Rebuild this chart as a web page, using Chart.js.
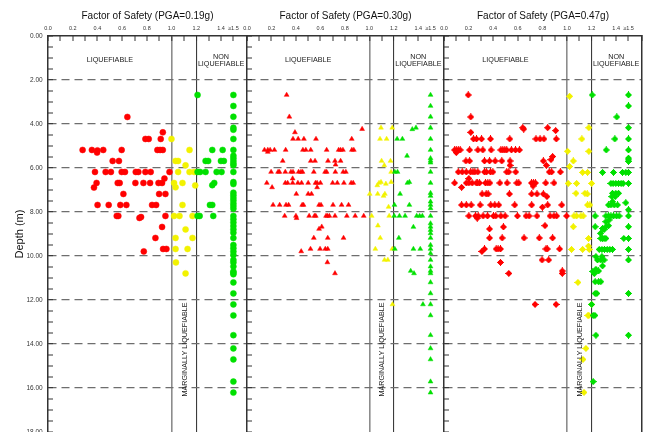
<!DOCTYPE html>
<html lang="en">
<head>
<meta charset="UTF-8">
<title>Factor of Safety vs Depth</title>
<script src="https://cdn.jsdelivr.net/npm/chart.js"></script>
<style>
  html, body { margin: 0; padding: 0; background: #fff; overflow: hidden; }
  #wrap { position: relative; width: 654px; height: 432px; overflow: hidden; }
  canvas { position: absolute; left: 0; top: 0; }
</style>
</head>
<body>
<div id="wrap">
  <canvas id="pga19" width="654" height="450"></canvas>
  <canvas id="pga30" width="654" height="450"></canvas>
  <canvas id="pga47" width="654" height="450"></canvas>
</div>
<script>
// FS axis labels (every 0.2, last one is the cap)
const fsTickValues = [0, 0.2, 0.4, 0.6, 0.8, 1.0, 1.2, 1.4, 1.5];
const fsTickLabels = ['0.0', '0.2', '0.4', '0.6', '0.8', '1.0', '1.2', '1.4', '\u22651.5'];
const pgaLabels = ['0.19', '0.30', '0.47'];

// PGA = 0.19g  [FS, depth]
const fs19Red = [[0.642,3.68],[0.929,4.38],[0.788,4.68],[0.815,4.68],[0.912,4.68],
  [0.280,5.18],[0.355,5.18],[0.400,5.20],[0.397,5.30],[0.447,5.18],[0.596,5.18],[0.885,5.18],[0.907,5.18],[0.929,5.18],
  [0.523,5.68],[0.574,5.68],
  [0.380,6.18],[0.466,6.18],[0.509,6.18],[0.596,6.18],[0.623,6.18],[0.710,6.18],[0.731,6.18],[0.788,6.18],[0.831,6.18],[0.983,6.18],
  [0.942,6.48],
  [0.393,6.68],[0.564,6.68],[0.580,6.68],[0.707,6.68],[0.772,6.68],[0.826,6.68],[0.894,6.68],[0.923,6.68],
  [0.372,6.89],[0.610,7.18],[0.899,7.18],[0.950,7.18],
  [0.401,7.68],[0.491,7.68],[0.585,7.68],[0.634,7.68],[0.842,7.68],[0.875,7.68],
  [0.556,8.18],[0.569,8.18],[0.740,8.27],[0.753,8.23],[0.950,8.18],
  [0.923,8.68],[0.869,9.18],[0.931,9.68],[0.958,9.68],[0.775,9.79]];
const fs19Yellow = [[0.999,4.68],[1.145,5.18],[1.032,5.68],[1.053,5.68],[1.113,5.88],
  [1.053,6.18],[1.145,6.18],[1.183,6.18],
  [1.020,6.68],[1.032,6.88],[1.088,6.68],[1.191,6.79],
  [1.088,7.68],[1.020,8.18],[1.064,8.18],[1.169,8.18],
  [1.113,8.79],[1.032,9.18],[1.169,9.18],[1.032,9.68],[1.129,9.68],
  [1.035,10.29],[1.113,10.79]];
const fs19Green = [[1.210,2.68],[1.329,5.18],[1.413,5.18],
  [1.275,5.68],[1.296,5.68],[1.399,5.68],[1.423,5.68],
  [1.210,6.18],[1.231,6.18],[1.275,6.18],[1.364,6.18],[1.404,6.18],
  [1.329,6.78],[1.345,6.68],[1.310,7.68],[1.329,7.68],
  [1.210,8.18],[1.227,8.18],[1.337,8.18]];
// depths where FS >= 1.5
const cap19 = [2.68, 3.18, 3.67, 4.17, 4.26, 4.68, 5.18, 5.44, 5.56, 5.68, 5.79, 5.88, 6.18, 6.64, 6.73,
  7.12, 7.24, 7.36, 7.48, 7.61, 7.73, 7.85, 8.18, 8.33, 8.48, 8.64, 8.79, 8.94, 9.18, 9.50, 9.65, 9.80, 9.95,
  10.18, 10.30, 10.48, 10.70, 10.76, 10.83, 11.20, 11.70, 12.20, 12.70, 13.60, 14.20, 14.70, 15.71, 16.21];

// PGA = 0.30g
const fs30Red = [[0.324,2.68],[0.346,3.67],[0.392,4.38],[0.941,4.23],
  [0.376,4.68],[0.418,4.68],[0.465,4.68],[0.564,4.68],[0.856,4.68],
  [0.143,5.18],[0.170,5.18],[0.170,5.27],[0.189,5.18],[0.224,5.18],[0.316,5.18],[0.457,5.18],[0.481,5.18],[0.521,5.18],
  [0.651,5.18],[0.749,5.18],[0.765,5.18],[0.784,5.18],[0.857,5.18],[0.873,5.18],
  [0.292,5.68],[0.521,5.68],[0.556,5.68],[0.662,5.68],[0.719,5.68],[0.765,5.68],[0.724,5.85],
  [0.197,6.18],[0.254,6.18],[0.265,6.18],[0.313,6.18],[0.359,6.18],[0.376,6.18],[0.422,6.18],[0.441,6.18],[0.454,6.18],
  [0.546,6.18],[0.638,6.18],[0.651,6.18],[0.722,6.18],[0.786,6.18],[0.808,6.18],
  [0.373,6.48],
  [0.162,6.68],[0.313,6.68],[0.332,6.68],[0.373,6.68],[0.416,6.68],[0.446,6.68],[0.500,6.68],[0.560,6.68],[0.573,6.68],
  [0.600,6.68],[0.700,6.68],[0.738,6.68],[0.792,6.68],[0.851,6.68],[0.868,6.68],
  [0.205,6.88],[0.573,6.88],[0.403,7.18],[0.500,7.18],[0.527,7.18],
  [0.213,7.68],[0.267,7.68],[0.319,7.68],[0.340,7.68],[0.451,7.68],[0.462,7.68],[0.589,7.68],[0.605,7.68],[0.703,7.68],
  [0.773,7.68],[0.830,7.68],
  [0.308,8.18],[0.400,8.18],[0.405,8.28],[0.508,8.18],[0.551,8.18],[0.562,8.18],[0.646,8.18],[0.657,8.18],[0.673,8.18],
  [0.719,8.18],[0.816,8.18],[0.884,8.18],[0.954,8.18],
  [0.611,8.67],[0.589,8.77],[0.546,9.18],[0.660,9.18],[0.789,9.18],
  [0.519,9.68],[0.597,9.68],[0.640,9.68],[0.660,9.68],[0.443,9.79],
  [0.657,10.29],[0.719,10.79]];
const fs30Yellow = [[1.095,4.17],[1.187,4.17],[1.087,4.68],[1.141,4.68],
  [1.100,5.68],[1.173,5.68],[1.122,5.88],[1.178,6.18],
  [1.079,6.68],[1.095,6.64],[1.135,6.72],[1.178,6.64],[1.065,6.79],
  [1.003,7.18],[1.068,7.18],[1.116,7.27],[1.127,7.18],[1.157,7.77],
  [1.019,8.18],[1.162,8.18],[1.070,8.62],[1.089,9.18],[1.049,9.68],[1.187,9.68],
  [1.124,10.18],[1.151,10.18],[1.189,12.20]];
const fs30Green = [[1.351,4.24],[1.381,4.17],[1.227,4.68],[1.270,4.68],[1.308,5.45],
  [1.208,6.18],[1.230,6.18],[1.311,6.68],[1.327,6.64],[1.251,7.18],
  [1.205,7.68],[1.327,7.68],
  [1.203,8.18],[1.246,8.18],[1.292,8.18],[1.387,8.18],[1.411,8.18],[1.433,8.18],
  [1.360,8.68],[1.241,9.18],[1.208,9.68],[1.360,9.68],[1.416,9.68],
  [1.338,10.68],[1.365,10.79],[1.438,12.20]];
const cap30 = [2.68, 3.18, 3.67, 4.17, 4.68, 5.18, 5.56, 5.67, 5.76, 6.18, 6.68, 7.14, 7.27, 7.53, 7.68, 7.83,
  8.18, 8.52, 8.67, 8.82, 8.97, 9.18, 9.50, 9.68, 9.88, 10.18, 10.48, 10.68, 10.79, 11.20, 11.70, 12.20,
  12.70, 13.60, 14.20, 14.70, 15.71, 16.21];

// PGA = 0.47g
const fs47Red = [[0.197,2.68],[0.218,3.68],[0.640,4.17],[0.648,4.23],[0.843,4.17],[0.908,4.30],[0.218,4.38],
  [0.240,4.68],[0.264,4.68],[0.305,4.68],[0.378,4.68],[0.535,4.68],[0.748,4.68],[0.781,4.68],[0.813,4.68],[0.913,4.68],
  [0.086,5.18],[0.100,5.18],[0.100,5.30],[0.116,5.18],[0.132,5.18],[0.208,5.18],[0.275,5.18],[0.316,5.18],[0.383,5.18],
  [0.462,5.18],[0.478,5.18],[0.494,5.18],[0.510,5.18],[0.548,5.18],[0.581,5.18],[0.613,5.18],
  [0.883,5.48],[0.870,5.62],
  [0.178,5.68],[0.208,5.68],[0.329,5.68],[0.370,5.68],[0.416,5.68],[0.470,5.68],[0.537,5.68],[0.808,5.68],[0.537,5.88],[0.832,5.88],
  [0.116,6.18],[0.148,6.18],[0.181,6.18],[0.216,6.18],[0.235,6.18],[0.251,6.18],[0.275,6.18],[0.329,6.18],[0.345,6.18],
  [0.378,6.18],[0.397,6.18],[0.510,6.18],[0.527,6.18],[0.583,6.18],[0.856,6.18],[0.875,6.18],[0.946,6.18],
  [0.202,6.48],
  [0.086,6.68],[0.181,6.68],[0.202,6.68],[0.229,6.68],[0.262,6.68],[0.273,6.68],[0.289,6.68],[0.337,6.68],[0.356,6.68],
  [0.373,6.68],[0.454,6.68],[0.513,6.68],[0.592,6.68],[0.608,6.68],[0.711,6.68],[0.727,6.68],[0.743,6.68],[0.827,6.68],[0.894,6.68],
  [0.143,6.88],[0.724,6.82],
  [0.310,7.18],[0.343,7.18],[0.359,7.18],[0.532,7.18],[0.713,7.18],[0.756,7.18],[0.808,7.18],[0.837,7.30],
  [0.143,7.68],[0.181,7.68],[0.221,7.68],[0.294,7.68],[0.380,7.68],[0.413,7.68],[0.445,7.68],[0.575,7.68],[0.713,7.68],
  [0.843,7.68],[0.957,7.68],[0.800,7.78],
  [0.202,8.18],[0.256,8.18],[0.270,8.28],[0.278,8.18],[0.318,8.18],[0.354,8.18],[0.402,8.18],[0.421,8.18],[0.462,8.18],
  [0.497,8.18],[0.597,8.18],[0.667,8.18],[0.692,8.18],[0.756,8.18],[0.862,8.18],[0.894,8.18],[0.916,8.18],[0.997,8.18],
  [0.821,8.62],[0.483,8.68],[0.370,8.77],
  [0.370,9.18],[0.473,9.18],[0.651,9.18],[0.775,9.18],[0.883,9.18],
  [0.329,9.68],[0.424,9.68],[0.440,9.68],[0.459,9.68],[0.829,9.68],[0.840,9.68],[0.940,9.68],[0.308,9.79],
  [0.797,10.18],[0.851,10.18],[0.459,10.29],[0.527,10.79],[0.962,10.68],[0.962,10.79],
  [0.740,12.20],[0.911,12.20]];
const fs47Yellow = [[1.021,2.74],[1.178,4.17],[1.121,4.68],[1.005,5.24],[1.178,5.24],[1.021,5.93],[1.051,5.68],
  [1.127,6.20],[1.167,6.20],[1.010,6.70],[1.078,6.70],[1.200,6.70],
  [1.073,7.15],[1.146,7.15],[1.165,7.18],[1.167,7.68],[1.186,7.68],
  [1.057,8.18],[1.078,8.18],[1.113,8.18],[1.132,8.18],[1.051,8.67],[1.175,9.20],[1.175,9.55],
  [1.037,9.70],[1.127,9.70],[1.181,9.70],
  [1.089,11.20],[1.200,12.20],[1.170,12.70],[1.178,12.70],[1.154,14.20],[1.130,14.70],[1.138,16.20]];
const fs47Green = [[1.205,2.68],[1.405,3.68],[1.389,4.68],[1.319,5.18],
  [1.289,6.20],[1.378,6.20],[1.451,6.20],[1.478,6.20],
  [1.357,6.70],[1.375,6.70],[1.397,6.70],[1.419,6.70],[1.440,6.70],[1.457,6.70],
  [1.370,7.15],[1.397,7.15],[1.419,7.15],[1.365,7.30],[1.392,7.30],[1.370,7.53],[1.478,7.58],
  [1.338,7.68],[1.357,7.68],[1.384,7.68],[1.411,7.68],
  [1.229,8.18],[1.316,8.18],[1.338,8.18],[1.357,8.18],[1.378,8.18],[1.403,8.18],[1.424,8.18],
  [1.343,8.36],[1.316,8.44],[1.229,8.67],[1.316,8.67],[1.338,8.62],[1.289,8.75],[1.302,8.80],[1.273,8.97],
  [1.275,9.20],[1.289,9.20],[1.302,9.20],[1.316,9.20],[1.462,9.20],
  [1.262,9.70],[1.284,9.70],[1.305,9.70],[1.327,9.70],[1.348,9.70],[1.370,9.70],
  [1.235,10.03],[1.284,10.03],[1.248,10.18],[1.275,10.18],[1.302,10.18],
  [1.289,10.45],[1.235,10.60],[1.210,10.70],[1.230,10.66],[1.257,10.68],[1.222,10.80],
  [1.229,11.17],[1.257,11.17],[1.275,11.17],[1.229,11.70],[1.243,11.70],
  [1.200,12.20],[1.213,12.70],[1.227,12.70],[1.235,13.60],[1.213,15.71]];
const cap47 = [2.68, 3.18, 4.17, 4.68, 5.18, 5.55, 5.63, 5.70, 6.20, 6.70, 7.90, 8.18, 8.67, 9.20, 9.70,
  10.18, 11.70, 13.60];

const RED = '#ff0000', YELLOW = '#f2f200', GREEN = '#00e000';
const FS_MAX = 1.61;
const FONT = '"Liberation Sans", Arial, sans-serif';

// small filled cross marker for the 0.47g panel
function plusMarker(color) {
  const c = document.createElement('canvas');
  c.width = 7; c.height = 7;
  const g = c.getContext('2d');
  g.fillStyle = color;
  g.fillRect(2, 1, 3, 5);
  g.fillRect(1, 2, 5, 3);
  g.fillRect(3, 0, 1, 7);
  g.fillRect(0, 3, 7, 1);
  return c;
}

// zone names drawn in data coordinates
const zoneLabels = {
  id: 'zoneLabels',
  afterDraw(chart) {
    const { ctx, scales: { x, y } } = chart;
    ctx.save();
    ctx.fillStyle = '#1a1a1a';
    ctx.font = '7.2px ' + FONT;
    ctx.textAlign = 'center';
    ctx.textBaseline = 'middle';
    ctx.fillText('LIQUEFIABLE', x.getPixelForValue(0.5), y.getPixelForValue(1.1));
    ctx.fillText('NON', x.getPixelForValue(1.40), y.getPixelForValue(0.97));
    ctx.fillText('LIQUEFIABLE', x.getPixelForValue(1.40), y.getPixelForValue(1.29));
    ctx.translate(x.getPixelForValue(1.105), y.getPixelForValue(14.25));
    ctx.rotate(-Math.PI / 2);
    ctx.fillText('MARGINALLY LIQUEFIABLE', 0, 0);
    ctx.restore();
  }
};

function fsLabel(v) {
  const i = fsTickValues.findIndex(t => Math.abs(t - v) < 1e-6);
  return i < 0 ? '' : fsTickLabels[i];
}

function makePanel(id, idx, red, yellow, green, capped, marker) {
  const left = [0, 247, 444][idx];
  const right = [247, 444, 642][idx];
  const first = idx === 0;
  const pts = a => a.map(p => ({ x: p[0], y: p[1] }));
  const capPts = capped.map(d => ({ x: 1.5, y: d }));
  const ds = (data, c) => ({
    data: data,
    backgroundColor: c,
    borderColor: c,
    borderWidth: 0.5,
    pointStyle: marker.type === 'image' ? plusMarker(c) : marker.type,
    pointRadius: marker.radius || 3.5
  });

  const scales = {
    x: {
      type: 'linear', position: 'top', min: 0, max: FS_MAX,
      afterFit: s => { s.height = 36; },
      title: { display: true, text: 'Factor of Safety (PGA=' + pgaLabels[idx] + 'g)',
        color: '#111', font: { size: 10, family: FONT }, padding: { top: 10, bottom: 0 } },
      ticks: { stepSize: 0.1, autoSkip: false, maxRotation: 0, padding: 9.4, color: '#333',
        font: { size: 5.5, family: FONT }, callback: v => fsLabel(v) },
      grid: {
        drawOnChartArea: true, tickLength: -5, tickColor: '#333', tickWidth: 1,
        color: c => Math.round(c.tick.value * 10) === 10 ? '#8c8c8c' : '#3c3c3c',
        lineWidth: c => {
          const v = Math.round(c.tick.value * 10);
          return v === 10 ? 1.6 : (v === 12 ? 1.1 : 0);
        }
      },
      border: { display: true, color: '#333', width: 1.5 }
    },
    y: {
      type: 'linear', position: 'left', reverse: true, min: 0, max: 18,
      afterFit: s => { s.width = first ? 48 : 0; },
      title: { display: first, text: 'Depth (m)', color: '#111',
        font: { size: 11, family: FONT }, padding: { top: 13, bottom: 0 } },
      ticks: { display: first, stepSize: 0.5, autoSkip: false, padding: 10.3, color: '#333',
        font: { size: 6.5, family: FONT },
        callback: v => (v % 2 === 0 ? v.toFixed(2) : '') },
      grid: {
        drawOnChartArea: true, tickLength: -5, tickColor: '#333', tickWidth: 1,
        color: '#6e6e6e',
        lineWidth: c => {
          const v = c.tick.value;
          return (v % 2 === 0 && v > 0 && v < 18) ? 1.3 : 0;
        }
      },
      border: { display: true, color: '#333', width: 1.5, dash: [8, 5] }
    }
  };
  if (idx === 2) {
    scales.yr = {
      type: 'linear', position: 'right', reverse: true, min: 0, max: 18,
      afterFit: s => { s.width = 0; },
      ticks: { display: false },
      grid: { drawOnChartArea: false, drawTicks: false },
      border: { display: true, color: '#333', width: 1.5 }
    };
  }

  return new Chart(document.getElementById(id), {
    type: 'scatter',
    data: {
      datasets: [
        ds(pts(green).concat(capPts), GREEN),
        ds(pts(yellow), YELLOW),
        ds(pts(red), RED)
      ]
    },
    options: {
      responsive: false,
      animation: false,
      layout: { padding: { left: first ? 0 : left, right: 654 - right, top: 0, bottom: 18 } },
      plugins: { legend: { display: false }, tooltip: { enabled: false } },
      scales: scales
    },
    plugins: [zoneLabels]
  });
}

makePanel('pga19', 0, fs19Red, fs19Yellow, fs19Green, cap19, { type: 'circle', radius: 3 });
makePanel('pga30', 1, fs30Red, fs30Yellow, fs30Green, cap30, { type: 'triangle', radius: 2.8 });
makePanel('pga47', 2, fs47Red, fs47Yellow, fs47Green, cap47, { type: 'image' });
</script>
</body>
</html>
